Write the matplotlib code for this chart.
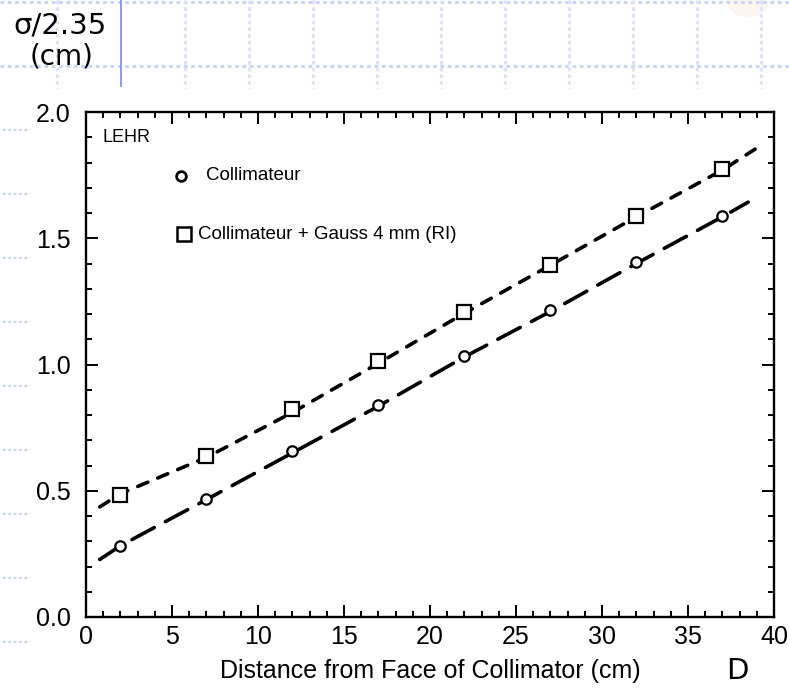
import matplotlib

matplotlib.use("Agg")
import matplotlib.pyplot as plt
from matplotlib.lines import Line2D
from matplotlib.patches import Ellipse
from matplotlib.ticker import MultipleLocator

# measured points
distance = [2, 7, 12, 17, 22, 27, 32, 37]
sigma_coll = [0.282, 0.468, 0.656, 0.838, 1.034, 1.214, 1.405, 1.589]
sigma_gauss = [0.485, 0.637, 0.825, 1.012, 1.207, 1.395, 1.589, 1.775]

# dashed fit curves
fit_coll_x = [0.8, 2, 7, 12, 17, 22, 27, 32, 37, 38.5]
fit_coll_y = [0.228, 0.282, 0.465, 0.650, 0.835, 1.030, 1.210, 1.400, 1.585, 1.643]
fit_gauss_x = [0.8, 2, 7, 12, 17, 22, 27, 32, 37, 38.9]
fit_gauss_y = [0.436, 0.488, 0.632, 0.810, 1.005, 1.203, 1.393, 1.585, 1.770, 1.853]

W, H = 789, 691
fig = plt.figure(figsize=(W / 100, H / 100), dpi=100)


def fx(px):
    return px / W


def fy(py):
    return 1 - py / H


# slide background: light dotted grid + blue rule
grid_col = "#c9d5f7"
for py in (2, 66):
    fig.add_artist(Line2D([0, 1], [fy(py), fy(py)], color=grid_col, lw=2.2,
                          ls=(0, (1.2, 1.2))))
for k in range(12):
    px = 57 + 64 * k
    if k == 1:
        fig.add_artist(Line2D([fx(px), fx(px)], [fy(0), fy(86)],
                              color="#7d98ee", lw=1.3))
    else:
        fig.add_artist(Line2D([fx(px), fx(px)], [fy(0), fy(88)], color="#dde4fa",
                              lw=2.2, ls=(0, (1.2, 1.0))))
for k in range(9):
    py = 130 + 64 * k
    fig.add_artist(Line2D([fx(3), fx(27)], [fy(py), fy(py)], color=grid_col,
                          lw=1.6, ls=(0, (1.2, 1.2))))
fig.add_artist(Ellipse((fx(748), fy(4)), 40 / W, 26 / H, color="#fdf1ec",
                       alpha=0.7, lw=0))

fig.text(fx(60), fy(25), "\u03c3/2.35", ha="center", va="center", fontsize=21,
         family="DejaVu Sans")
fig.text(fx(62), fy(56), "(cm)", ha="center", va="center", fontsize=20,
         family="DejaVu Sans")
fig.text(fx(737), fy(671), "D", ha="center", va="center", fontsize=21,
         family="DejaVu Sans")

plt.rcParams["font.family"] = ["Liberation Sans", "DejaVu Sans"]

ax = fig.add_axes([fx(86), fy(617), (774 - 86) / W, (617 - 112) / H])

ax.plot(fit_coll_x, fit_coll_y, color="black", lw=2.6, ls=(0, (7, 3.5)),
        dash_capstyle="round")
ax.plot(fit_gauss_x, fit_gauss_y, color="black", lw=2.6, ls=(0, (3, 3)),
        dash_capstyle="round")
ax.plot(distance, sigma_coll, ls="none", marker="o", ms=7.5, mfc="white",
        mec="black", mew=1.6)
ax.plot(distance, sigma_gauss, ls="none", marker="s", ms=10, mfc="white",
        mec="black", mew=1.6)

# in-plot legend as drawn in the original
ax.text(0.95, 1.90, "LEHR", fontsize=13, va="center", ha="left")
ax.plot([5.5], [1.747], marker="o", ms=7, mfc="white", mec="black", mew=2.0)
ax.text(7.0, 1.747, "Collimateur", fontsize=13.5, va="center", ha="left")
ax.plot([5.7], [1.515], marker="s", ms=10, mfc="white", mec="black", mew=1.8)
ax.text(6.5, 1.515, "Collimateur + Gauss 4 mm (RI)", fontsize=13.5,
        va="center", ha="left")

ax.set_xlim(0, 40)
ax.set_ylim(0, 2.0)
ax.xaxis.set_major_locator(MultipleLocator(5))
ax.xaxis.set_minor_locator(MultipleLocator(1))
ax.yaxis.set_major_locator(MultipleLocator(0.5))
ax.yaxis.set_minor_locator(MultipleLocator(0.1))
ax.yaxis.set_major_formatter(lambda v, p: f"{v:.1f}")
ax.tick_params(which="both", direction="in", top=True, right=True, width=1.4,
               labelsize=18)
ax.tick_params(which="major", length=8.5)
ax.tick_params(which="minor", length=4.5)
ax.tick_params(axis="x", which="major", pad=6)
ax.tick_params(axis="y", which="major", pad=11)
for s in ax.spines.values():
    s.set_linewidth(1.7)

fig.text(fx(430), fy(671), "Distance from Face of Collimator (cm)", ha="center",
         va="center", fontsize=18)

fig.savefig("out.png", dpi=100)
